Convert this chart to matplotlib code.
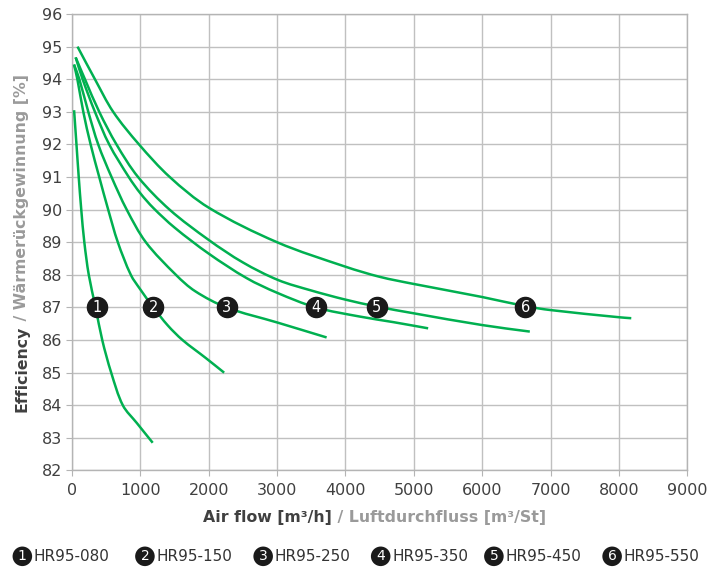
import numpy as np
import matplotlib.pyplot as plt
from matplotlib.path import Path
from matplotlib.patches import PathPatch

# Wirkungsgrad je Modell
models = ["HR95-080", "HR95-150", "HR95-250", "HR95-350", "HR95-450", "HR95-550"]

flow_080 = [30, 65, 98, 135, 180, 245, 345, 442, 573, 743, 950, 1180]
eff_080 = [93.05, 92, 91, 90, 89, 88, 87, 86, 85, 84, 83.45, 82.85]

flow_150 = [29, 78, 165, 272, 398, 529, 670, 860, 1000, 1190, 1400, 1617, 1956, 2225]
eff_150 = [94.45, 94, 93, 92, 91, 90, 89, 88, 87.55, 87.0, 86.45, 86.0, 85.45, 85.0]

flow_250 = [29, 107, 238, 383, 578, 800, 1080, 1520, 1800, 2260, 3000, 3724]
eff_250 = [94.45, 94, 93, 92, 91, 90, 89, 88, 87.5, 87.0, 86.54, 86.08]

flow_350 = [53, 155, 335, 544, 830, 1000, 1190, 1500, 2000, 2554, 3000, 3567, 4211, 4700, 5209]
eff_350 = [94.67, 94, 93, 92, 91, 90.5, 90.05, 89.45, 88.65, 87.9, 87.45, 87.0, 86.72, 86.55, 86.36]

flow_450 = [53, 189, 398, 650, 966, 1427, 2000, 2500, 3016, 3500, 4000, 4455, 5000, 6000, 6696]
eff_450 = [94.67, 94, 93, 92, 91, 90, 89.07, 88.38, 87.84, 87.52, 87.24, 87.03, 86.82, 86.46, 86.26]

flow_550 = [80, 335, 602, 980, 1430, 2000, 3000, 4000, 4500, 5000, 6000, 6630, 7000, 8000, 8180]
eff_550 = [95.0, 94, 93, 92, 91, 90.06, 89.0, 88.25, 87.94, 87.72, 87.32, 87.04, 86.92, 86.70, 86.67]

badge_x = [361, 1189, 2261, 3567, 4455, 6628]
badge_y = 87

x_ticks = list(range(0, 9001, 1000))
y_ticks = list(range(82, 97))

green = "#00b050"
grid_c = "#c0c0c0"
txt_c = "#404040"


def smooth_path(xs, ys, sx=0.0684, sy=32.6):
    P = np.column_stack([np.array(xs) * sx, np.array(ys) * sy])
    d = np.linalg.norm(np.diff(P, axis=0), axis=1)
    T = np.zeros_like(P)
    T[0] = (P[1] - P[0]) / d[0]
    T[-1] = (P[-1] - P[-2]) / d[-1]
    for i in range(1, len(P) - 1):
        T[i] = (P[i + 1] - P[i - 1]) / (d[i - 1] + d[i])
    verts = [P[0]]
    codes = [Path.MOVETO]
    for i in range(len(P) - 1):
        verts += [P[i] + T[i] * d[i] / 3, P[i + 1] - T[i + 1] * d[i] / 3, P[i + 1]]
        codes += [Path.CURVE4] * 3
    verts = np.array(verts) / [sx, sy]
    return Path(verts, codes)


fig = plt.figure(figsize=(7.21, 5.70), dpi=100)
ax = fig.add_axes([0.0999, 0.1746, 0.8534, 0.8008])

curves = [(flow_080, eff_080), (flow_150, eff_150), (flow_250, eff_250),
          (flow_350, eff_350), (flow_450, eff_450), (flow_550, eff_550)]
for fx, fy in curves:
    ax.add_patch(PathPatch(smooth_path(fx, fy), fill=False, edgecolor=green, lw=1.8,
                           capstyle="butt", zorder=3))

# Nummern auf den Kurven
ax.scatter(badge_x, [badge_y] * len(badge_x), s=210, color="#1a1a1a", zorder=5)
for i, bx in enumerate(badge_x):
    ax.text(bx, badge_y, str(i + 1), color="white", fontsize=10.5, ha="center",
            va="center", zorder=6)

ax.set_xlim(0, 9000)
ax.set_ylim(82, 96)
ax.set_xticks(x_ticks)
ax.set_yticks(y_ticks)
ax.grid(True, color=grid_c, lw=1.0)
ax.set_axisbelow(True)
for s in ax.spines.values():
    s.set_color("#b4b4b4")
    s.set_linewidth(1.0)
ax.tick_params(length=4, color="#b4b4b4", labelsize=11.5, labelcolor=txt_c)
ax.tick_params(axis="x", pad=5)
ax.tick_params(axis="y", pad=3)

# Achsentitel zweifarbig
t1 = fig.text(0.2816, 0.084, "Air flow [m\u00b3/h]", fontsize=11.3, fontweight="bold",
              color=txt_c, ha="left", va="baseline")
ax.annotate(" / Luftdurchfluss [m\u00b3/St]", xy=(1, 0), xycoords=t1, fontsize=11.3,
            fontweight="bold", color="#9a9a9a", ha="left", va="bottom")

t2 = fig.text(0.030, 0.277, "Efficiency", fontsize=11.3, fontweight="bold",
              color=txt_c, rotation=90, ha="center", va="bottom")
ax.annotate(" / W\u00e4rmer\u00fcckgewinnung [%]", xy=(0.5, 1), xycoords=t2, fontsize=11.3,
            fontweight="bold", color="#9a9a9a", rotation=90, ha="center", va="bottom")

# Legende unten
leg_x = [0.031, 0.201, 0.365, 0.528, 0.685, 0.849]
for i, name in enumerate(models):
    fig.text(leg_x[i], 0.024, str(i + 1), color="white", fontsize=10, ha="center",
             va="center", bbox=dict(boxstyle="circle,pad=0.2", fc="#1a1a1a", ec="none"))
    fig.text(leg_x[i] + 0.016, 0.024, name, color="#333333", fontsize=11,
             ha="left", va="center")

fig.savefig("out.png", dpi=100)
